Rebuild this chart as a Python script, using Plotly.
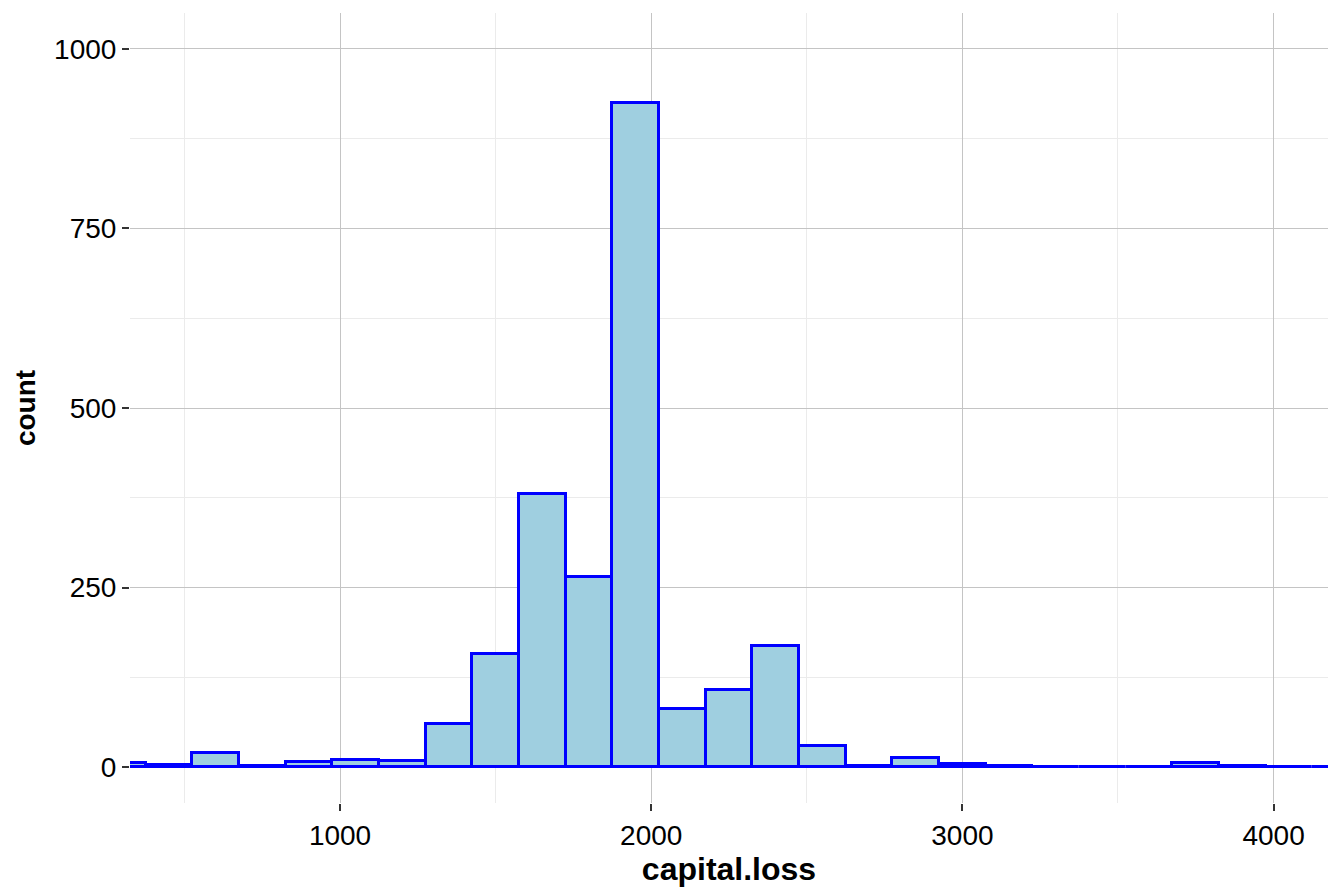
import plotly.graph_objects as go

# Histogram of capital.loss, binwidth 150 (bin edges at 75 + 150k)
bin_left = [225, 375, 525, 675, 825, 975, 1125, 1275, 1425, 1575, 1725, 1875, 2025,
            2175, 2325, 2475, 2625, 2775, 2925, 3075, 3225, 3375, 3525, 3675, 3825,
            3975, 4125]
counts = [6, 3, 20, 2, 7, 10, 9, 60, 158, 380, 265, 925, 81,
          108, 168, 29, 2, 13, 5, 2, 0, 0, 0, 6, 2,
          0, 0]
binwidth = 150
centers = [b + binwidth / 2 for b in bin_left]

x_major = [1000, 2000, 3000, 4000]
y_major = [0, 250, 500, 750, 1000]

fig = go.Figure()
fig.add_trace(go.Bar(
    x=centers, y=counts, width=[binwidth] * len(centers),
    marker=dict(color="#9FCFE0", line=dict(color="#0000FF", width=3)),
    hoverinfo="x+y",
))

tickfont = dict(family="Liberation Sans, Arial, sans-serif", size=28, color="#000000")
xtitlefont = dict(family="Liberation Sans, Arial, sans-serif", size=32, color="#000000", weight="bold")
ytitlefont = dict(family="Liberation Sans, Arial, sans-serif", size=28, color="#000000", weight="bold")

fig.update_layout(
    width=1344, height=895,
    margin=dict(l=122, r=24, t=5, b=100),
    paper_bgcolor="white", plot_bgcolor="white",
    showlegend=False, bargap=0,
    xaxis=dict(
        range=[325, 4175], automargin=False,
        tickvals=x_major, ticktext=[str(v) for v in x_major],
        ticks="outside", ticklen=7, tickwidth=2, tickcolor="#333333",
        showgrid=True, gridcolor="#C4C4C4", gridwidth=1,
        minor=dict(tickvals=[500, 1500, 2500, 3500], showgrid=True,
                   gridcolor="#EBEBEB", gridwidth=1, ticks=""),
        zeroline=False, showline=False,
        tickfont=tickfont,
        title=dict(text="capital.loss", font=xtitlefont, standoff=4),
    ),
    yaxis=dict(
        range=[-50, 1050], automargin=False,
        tickvals=y_major, ticktext=[str(v) for v in y_major],
        ticks="outside", ticklen=7, tickwidth=2, tickcolor="#333333",
        showgrid=True, gridcolor="#C4C4C4", gridwidth=1,
        minor=dict(tickvals=[125, 375, 625, 875], showgrid=True,
                   gridcolor="#EBEBEB", gridwidth=1, ticks=""),
        zeroline=False, showline=False,
        tickfont=tickfont,
        title=dict(text="count", font=ytitlefont, standoff=10),
    ),
)

fig.write_html("out.html")
